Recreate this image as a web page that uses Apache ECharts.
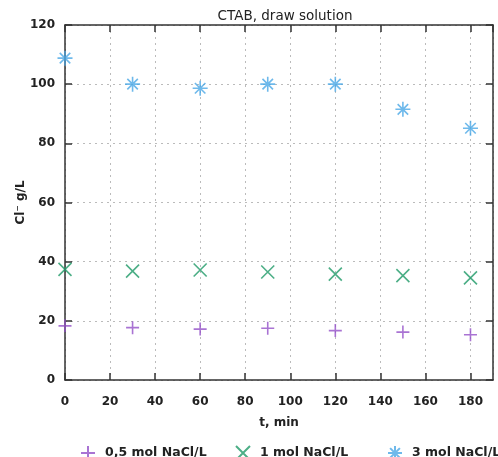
<!DOCTYPE html>
<html>
<head>
<meta charset="utf-8">
<script src="https://cdn.jsdelivr.net/npm/echarts@6/dist/echarts.min.js"></script>
<style>
  html, body { margin: 0; padding: 0; background: #fff; }
  #chart { width: 498px; height: 457px; }
</style>
</head>
<body>
<div id="chart"></div>
<script>
  // time points, min
  const times = [0, 30, 60, 90, 120, 150, 180]
  // Cl- in draw solution, g/L
  const nacl05 = [18.3, 17.7, 17.2, 17.5, 16.7, 16.2, 15.3]
  const nacl1 = [37.4, 36.8, 37.2, 36.5, 35.8, 35.3, 34.5]
  const nacl3 = [108.8, 100, 98.6, 100, 100, 91.5, 85.1]
  const seriesNames = ['0,5 mol NaCl/L', '1 mol NaCl/L', '3 mol NaCl/L']
  const xTicks = [0, 20, 40, 60, 80, 100, 120, 140, 160, 180]
  const yTicks = [0, 20, 40, 60, 80, 100, 120]

  const colors = ['#9350c8', '#1f9a68', '#4aa8e6']
  const symbols = [
    'path://M0,5L10,5M5,0L5,10',
    'path://M0,0L10,10M0,10L10,0',
    'path://M0,5L10,5M5,0L5,10M1.5,1.5L8.5,8.5M1.5,8.5L8.5,1.5'
  ]
  const txt = '#222'
  const font = 'DejaVu Sans'

  const pairs = (ys) => times.map((t, i) => [t, ys[i]])
  const allData = [nacl05, nacl1, nacl3]

  const grid = { left: 65, right: 5, top: 25, bottom: 77 }
  const tickOpt = { show: true, inside: true, length: 7, lineStyle: { color: '#333', width: 1.5 } }
  const lineOpt = { show: true, onZero: false, lineStyle: { color: '#333', width: 1.5 } }

  let myEchart = echarts.init(document.getElementById('chart'))
  let option = {
    animation: false,
    title: {
      text: 'CTAB, draw solution',
      left: 280, top: 4, textAlign: 'center',
      textStyle: { fontFamily: font, fontSize: 13.5, fontWeight: 'normal', color: txt }
    },
    legend: seriesNames.map((n, i) => ({
      data: [n],
      left: [75, 230, 382][i],
      top: 440,
      itemWidth: 24, itemHeight: 14,
      textStyle: { fontFamily: font, fontSize: 12.5, fontWeight: 'bold', color: txt }
    })),
    grid: grid,
    xAxis: [{
      type: 'value', min: 0, max: 190, interval: 20,
      name: 't, min', nameLocation: 'middle', nameGap: 37, nameMoveOverlap: false,
      nameTextStyle: { fontFamily: font, fontSize: 12, fontWeight: 'bold', color: txt },
      axisLine: lineOpt,
      axisTick: tickOpt,
      axisLabel: {
        fontFamily: font, fontSize: 12, fontWeight: 'bold', color: txt, margin: 16,
        showMaxLabel: false,
        formatter: (v) => xTicks.includes(Number(v)) ? String(v) : ''
      },
      splitLine: { show: true, lineStyle: { color: '#bbb', type: [2, 4], width: 1 } }
    }, {
      type: 'value', position: 'top', min: 0, max: 190, interval: 20,
      axisLine: lineOpt,
      axisTick: tickOpt, axisLabel: { show: false }, splitLine: { show: false }
    }],
    yAxis: [{
      type: 'value', min: 0, max: 120, interval: 20,
      name: 'Cl\u207B g/L', nameLocation: 'middle', nameGap: 38, nameMoveOverlap: false,
      nameTextStyle: { fontFamily: font, fontSize: 12, fontWeight: 'bold', color: txt },
      axisLine: lineOpt,
      axisTick: tickOpt,
      axisLabel: {
        fontFamily: font, fontSize: 12, fontWeight: 'bold', color: txt, margin: 10,
        formatter: (v) => yTicks.includes(Number(v)) ? String(v) : ''
      },
      splitLine: { show: true, lineStyle: { color: '#bbb', type: [2, 4], width: 1 } }
    }, {
      type: 'value', position: 'right', min: 0, max: 120, interval: 20,
      axisLine: lineOpt,
      axisTick: tickOpt, axisLabel: { show: false }, splitLine: { show: false }
    }],
    series: seriesNames.map((n, i) => ({
      name: n,
      type: 'scatter',
      symbol: symbols[i],
      symbolSize: i === 2 ? 15 : 13,
      symbolKeepAspect: true,
      itemStyle: { color: 'transparent', borderColor: colors[i], borderWidth: 1.6 },
      data: pairs(allData[i]),
      clip: false,
      z: 5
    }))
  }
  myEchart.setOption(option)
</script>
</body>
</html>
